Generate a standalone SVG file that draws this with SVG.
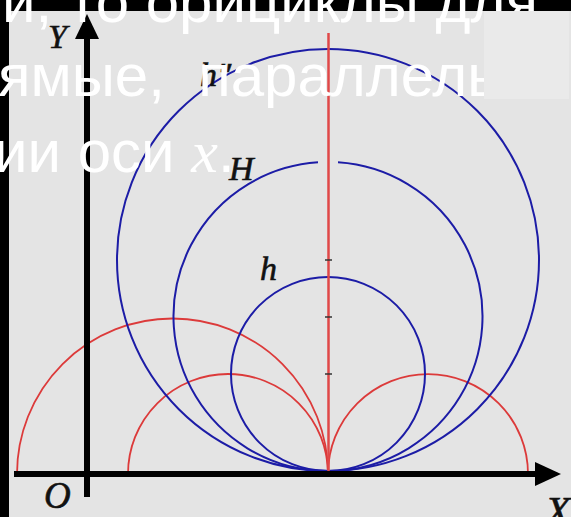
<svg xmlns="http://www.w3.org/2000/svg" width="571" height="517" viewBox="0 0 571 517">
<style>
.blue{fill:none;stroke:#1c1ca6;stroke-width:2}
.red{fill:none;stroke:#dc3a3a;stroke-width:1.8}
.axis{stroke:#000;stroke-width:6;fill:none}
.lbl{font-family:"Liberation Serif",serif;font-style:italic;fill:#111;stroke:#111;stroke-width:0.6}
.ov{font-family:"Liberation Sans",Arial,sans-serif;font-size:60px;fill:#fff}
.tick{stroke:#333;stroke-width:1.5}
</style>
<rect x="0" y="0" width="571" height="517" fill="#000"/>
<rect x="9" y="11" width="562" height="506" fill="#e4e4e4"/>
<g id="red-arcs">
<path class="red" d="M17 474 A155.5 155.5 0 0 1 328 474"/>
<path class="red" d="M128 474 A100 100 0 0 1 328 474"/>
<path class="red" d="M328 474 A100 100 0 0 1 528 474"/>
</g>
<g id="horocycles">
<circle id="h" class="blue" cx="328" cy="374" r="97"/>
<path id="H" class="blue" d="M318 162.3 A154.5 154.5 0 1 0 338 162.3"/>
<circle id="h2" class="blue" cx="328" cy="260" r="211"/>
</g>
<g id="axis-line">
<line x1="328.5" y1="33" x2="328.5" y2="474" stroke="#e04848" stroke-width="2.5"/>
<line class="tick" x1="325" y1="260" x2="332" y2="260"/>
<line class="tick" x1="325" y1="317" x2="332" y2="317"/>
<line class="tick" x1="325" y1="374" x2="332" y2="374"/>
</g>
<g id="axes">
<line class="axis" x1="87" y1="36" x2="87" y2="497"/>
<polygon points="87,14 75,39 99,39" fill="#000"/>
<line class="axis" x1="14" y1="474" x2="538" y2="474"/>
<polygon points="561,474 535,462 535,486" fill="#000"/>
</g>
<g id="labels">
<text class="lbl" x="48" y="48" font-size="34">Y</text>
<text class="lbl" x="44" y="508" font-size="37">O</text>
<text class="lbl" x="545" y="526" font-size="42">X</text>
<text class="lbl" x="200" y="86" font-size="34">h″</text>
<text class="lbl" x="229" y="180" font-size="34">H</text>
<text class="lbl" x="260" y="280" font-size="34">h</text>
</g>
<g id="overlay-text">
<text class="ov" x="2" y="22">и, то орициклы для</text>
<text class="ov" x="-2" y="96" xml:space="preserve">ямые,  параллель</text>
<text class="ov" x="-6" y="172">ии оси <tspan font-family="Liberation Serif,serif" font-style="italic">x</tspan>.</text>
</g>
<rect x="484" y="11" width="85" height="88" fill="#eaeaea"/>
</svg>
